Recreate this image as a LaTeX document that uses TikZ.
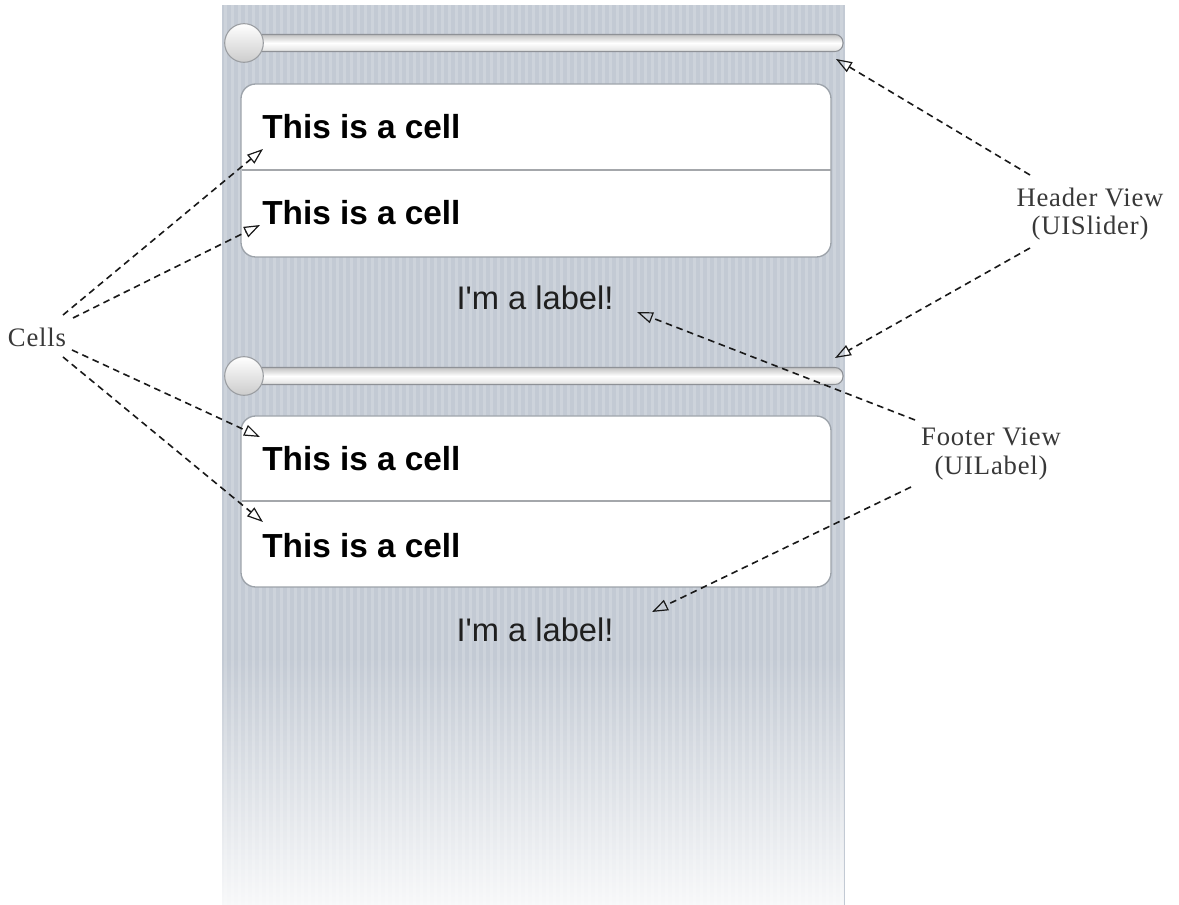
\documentclass[tikz,border=0pt]{standalone}
\usepackage{fontspec}
\setmainfont{Liberation Serif}
\newfontfamily\uisans[Ligatures=TeXOff]{Liberation Sans}
\newfontfamily\notefont[LetterSpace=3]{Liberation Serif}
\usetikzlibrary{arrows.meta,fadings}
\tikzfading[name=stripfade, top color=transparent!100, bottom color=transparent!12]
\definecolor{stripbg}{HTML}{C3CAD4}
\definecolor{stripln}{HTML}{CDD3DB}
\definecolor{cellborder}{HTML}{9DA3AA}
\definecolor{sepline}{HTML}{A4A7AB}
\definecolor{trackedge}{HTML}{8E9196}
\definecolor{thumbedge}{HTML}{9A9DA1}
\begin{document}
\begin{tikzpicture}[x=0.75pt,y=-0.75pt,
  cellbox/.style={draw=cellborder, line width=1pt, fill=white, rounded corners=11pt},
  sep/.style={draw=sepline, line width=1pt},
  celltext/.style={font=\uisans\bfseries\fontsize{25}{30}\selectfont, anchor=base west, inner sep=0pt},
  uilabel/.style={font=\uisans\fontsize{24.5}{30}\selectfont, anchor=base, inner sep=0pt, text=black!88},
  note/.style={font=\notefont\fontsize{20}{21.5}\selectfont, align=center, inner sep=0pt, text=black!78},
  pointer/.style={draw=black!90, line width=1.2pt, dash pattern=on 5pt off 3.5pt,
    -{Triangle[open, length=12pt, width=8.5pt, line width=0.9pt]}},
  track/.style={draw=trackedge, line width=0.8pt, rounded corners=6pt,
    top color=black!24, bottom color=black!12, middle color=white},
  thumb/.style={circle, draw=thumbedge, line width=0.8pt, minimum size=29pt, inner sep=0pt,
    top color=white, bottom color=black!20}
]
\useasboundingbox (0,0) rectangle (1179,905);
\fill[white] (0,0) rectangle (1179,905);
% background strip
\fill[stripbg] (222,5) rectangle (845,905);
\foreach \i in {0,...,88} \fill[stripln] ({224+7*\i},5) rectangle ({226.5+7*\i},905);
\fill[white, path fading=stripfade] (222,655) rectangle (845,905);

% header slider 1
\draw[track] (245,34.5) rectangle (843,51.5);
\node[thumb] (thumbA) at (244,43) {};
% table section 1
\draw[cellbox] (241,84) rectangle (831,257);
\draw[sep] (241.5,170) -- (830.5,170);
\node[celltext] (cellA) at (262,139) {This is a cell};
\node[celltext] (cellB) at (262,225) {This is a cell};
\node[uilabel] (labelA) at (535,310) {I'm a label!};

% header slider 2
\draw[track] (245,367.5) rectangle (843,384.5);
\node[thumb] (thumbB) at (244,376) {};
% table section 2
\draw[cellbox] (241,416) rectangle (831,587);
\draw[sep] (241.5,501) -- (830.5,501);
\node[celltext] (cellC) at (262,471) {This is a cell};
\node[celltext] (cellD) at (262,557) {This is a cell};
\node[uilabel] (labelB) at (535,642) {I'm a label!};

% annotations
\node[note] (cellsnote) at (37,337) {Cells};
\node[note] (headernote) at (1090,214) {Header View\\(UISlider)};
\node[note] (footernote) at (991,454) {Footer View\\(UILabel)};

% connector end points
\coordinate (tA) at (63,315);
\coordinate (tB) at (73,318);
\coordinate (tC) at (72,350);
\coordinate (tD) at (63,357);
\coordinate (pA) at (263,149);
\coordinate (pB) at (260,225);
\coordinate (pC) at (260,437);
\coordinate (pD) at (263,522);
\coordinate (tH1) at (1030,175);
\coordinate (tH2) at (1030,248);
\coordinate (pH1) at (836,59);
\coordinate (pH2) at (835,358);
\coordinate (tF1) at (915,420);
\coordinate (tF2) at (911,487);
\coordinate (pF1) at (637,312);
\coordinate (pF2) at (652,612);

\draw[pointer] (tA) -- (pA);
\draw[pointer] (tB) -- (pB);
\draw[pointer] (tC) -- (pC);
\draw[pointer] (tD) -- (pD);
\draw[pointer] (tH1) -- (pH1);
\draw[pointer] (tH2) -- (pH2);
\draw[pointer] (tF1) -- (pF1);
\draw[pointer] (tF2) -- (pF2);
\end{tikzpicture}
\end{document}
